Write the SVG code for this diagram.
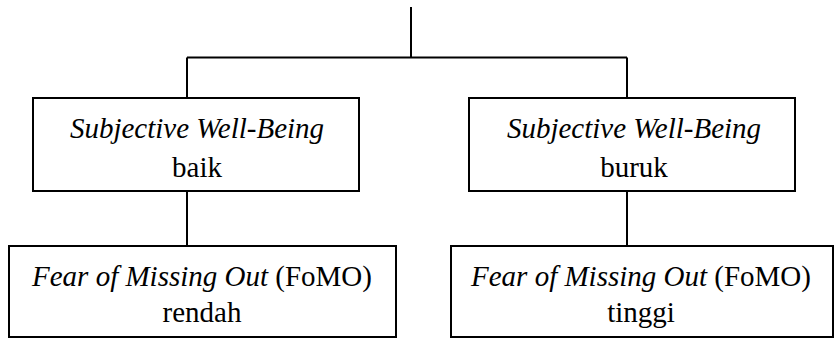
<svg xmlns="http://www.w3.org/2000/svg" width="835" height="338" viewBox="0 0 835 338">
<style>
.box{fill:#fff;stroke:#000;stroke-width:2}
.ln{fill:none;stroke:#000;stroke-width:2}
.t{font-family:'Liberation Serif','Times New Roman',Times,serif;font-size:29px;fill:#000;text-anchor:middle}
.i{font-style:italic}
</style>
<rect width="835" height="338" fill="#fff"/>
<g id="connectors">
<path class="ln" d="M411 7V57.5M187 57.5H627M187 57.5V98M627 57.5V98M187 191V246M627 191V246"/>
</g>
<g id="node-swb-baik">
<rect class="box" x="33" y="98" width="326" height="93"/>
<text class="t" x="197" y="138"><tspan class="i">Subjective Well-Being</tspan></text>
<text class="t" x="197" y="177">baik</text>
</g>
<g id="node-swb-buruk">
<rect class="box" x="469" y="98" width="326" height="93"/>
<text class="t" x="634" y="138"><tspan class="i">Subjective Well-Being</tspan></text>
<text class="t" x="634" y="177">buruk</text>
</g>
<g id="node-fomo-rendah">
<rect class="box" x="9" y="246" width="387" height="91"/>
<text class="t" x="202" y="286"><tspan class="i">Fear of Missing Out</tspan> (FoMO)</text>
<text class="t" x="202" y="322">rendah</text>
</g>
<g id="node-fomo-tinggi">
<rect class="box" x="451" y="246" width="382" height="91"/>
<text class="t" x="641" y="286"><tspan class="i">Fear of Missing Out</tspan> (FoMO)</text>
<text class="t" x="641" y="322">tinggi</text>
</g>
</svg>
